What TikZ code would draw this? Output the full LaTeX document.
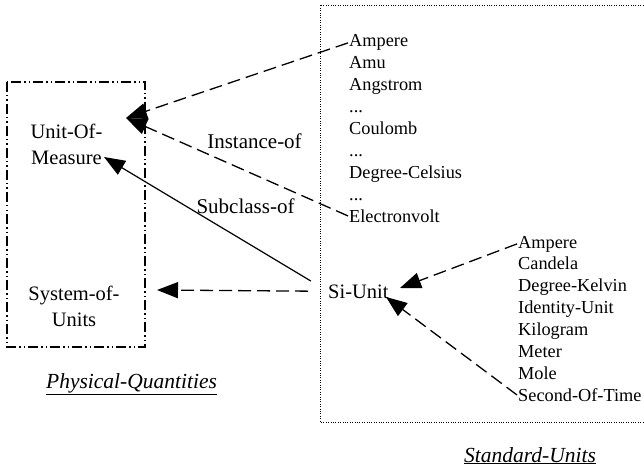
\documentclass[tikz,border=0pt]{standalone}
\usepackage{fontspec}
\setmainfont{Liberation Serif}
\usetikzlibrary{arrows.meta}

\newcommand{\elide}{...}

\tikzset{
	listitem/.style={anchor=base west,inner sep=1pt,font=\fontsize{18.3}{22}\selectfont},
	concept/.style={align=center,inner sep=2pt,font=\fontsize{20.5}{26}\selectfont},
	relname/.style={anchor=base,inner sep=1pt,font=\fontsize{21}{25}\selectfont},
	ontology/.style={anchor=base,inner sep=1pt,font=\fontsize{21.5}{26}\itshape},
	dasharrow/.style={line width=1.3pt,dash pattern=on 13pt off 6pt,-{Triangle[length=21pt,width=16pt]}},
	subarrow/.style={line width=1.2pt,-{Triangle[length=21pt,width=16pt]}},
	dashdotbox/.style={line width=1.5pt,dash pattern=on 10pt off 3pt on 1.5pt off 3pt on 1.5pt off 3pt},
	dotbox/.style={line width=0.9pt,dash pattern=on 1pt off 1.4pt}
}

\begin{document}
\begin{tikzpicture}[x=1pt,y=-1pt]
			\useasboundingbox (0,0) rectangle (644,470);

			\draw[dashdotbox] (7,82) rectangle (145,347);
			\draw[dotbox] (646,5) -- (320,5) -- (320,422) -- (646,422);

			\node[concept] (uom) at (66.5,144) {Unit-Of-\\Measure};
			\node[concept] (sys) at (74,306) {System-of-\\Units};
			\node[anchor=base west,inner sep=0pt,font=\fontsize{20.5}{26}\selectfont] (siunit) at (328,298) {Si-Unit};

			\foreach \unit [count=\i] in {Ampere,Amu,Angstrom,\elide,Coulomb,\elide,Degree-Celsius,\elide,Electronvolt}
				\node[listitem] (inst-\i) at (348,{47+21.9*(\i-1)}) {\unit};
			\foreach \unit [count=\i] in {Ampere,Candela,Degree-Kelvin,Identity-Unit,Kilogram,Meter,Mole,Second-Of-Time}
				\node[listitem] (base-\i) at (517,{248+21.9*(\i-1)}) {\unit};

			\node[relname] (instof) at (254.5,149) {Instance-of};
			\node[relname] (subof) at (245.5,213) {Subclass-of};

			\node[ontology] (physq) at (131.5,388) {\underline{Physical-Quantities}};
			\node[ontology] (stdu) at (530,462) {\underline{Standard-Units}};

			\coordinate (uom-in) at (126,118);
			\coordinate (uom-sub) at (104,157);
			\coordinate (sys-in) at (157,290);
			\coordinate (si-in1) at (400,288);
			\coordinate (si-in2) at (386,297);

			\draw[dasharrow] (inst-1.west) -- (uom-in);
			\draw[dasharrow] (inst-9.west) -- (uom-in);
			\draw[subarrow,shorten <=20pt] (siunit.west) -- (uom-sub);
			\draw[dasharrow,shorten <=20pt] (siunit.west) -- (sys-in);
			\draw[dasharrow] (base-1.west) -- (si-in1);
			\draw[dasharrow] (base-8.west) -- (si-in2);
		\end{tikzpicture}
\end{document}
